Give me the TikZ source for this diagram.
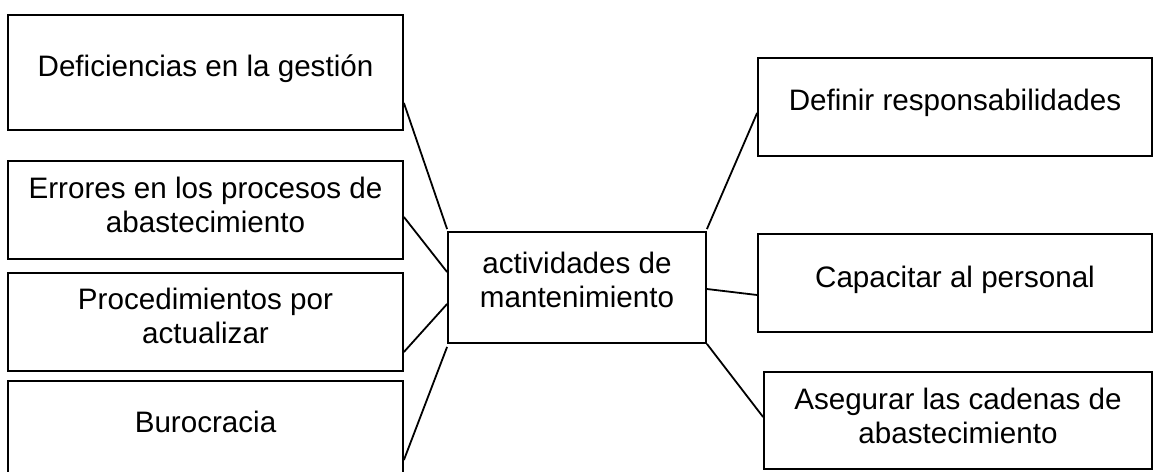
\documentclass[tikz,border=0pt]{standalone}
\usepackage{fontspec}
\setmainfont{Liberation Sans}
\begin{document}
\begin{tikzpicture}[x=1pt,y=-1pt,
  box/.style={draw,line width=1.8pt,inner sep=0pt,fill=none},
  txt/.style={inner sep=0pt,anchor=base,align=center,font=\fontsize{29.6}{33.5}\selectfont},
  link/.style={line width=1.8pt}]
\useasboundingbox (0,0) rectangle (1153,471);
% boxes
\node[box,minimum width=395pt,minimum height=115pt] (b1) at (205.5,72.5) {};
\node[box,minimum width=395pt,minimum height=98pt] (b2) at (205.5,210) {};
\node[box,minimum width=395pt,minimum height=98pt] (b3) at (205.5,322) {};
\node[box,minimum width=395pt,minimum height=99pt] (b4) at (205.5,430.5) {};
\node[box,minimum width=258pt,minimum height=111pt] (c) at (577,287.5) {};
\node[box,minimum width=394pt,minimum height=98pt] (r1) at (955,107) {};
\node[box,minimum width=394pt,minimum height=98pt] (r2) at (955,283) {};
\node[box,minimum width=388pt,minimum height=97pt] (r3) at (958,420.5) {};
% texts (base anchor = baseline of the last line)
\node[txt] (t1) at (205.5,76) {Deficiencias en la gestión};
\node[txt] (t2) at (205.5,232) {Errores en los procesos de\\abastecimiento};
\node[txt] (t3) at (205.5,343) {Procedimientos por\\actualizar};
\node[txt] (t4) at (205.5,432) {Burocracia};
\node[txt] (tc) at (577,307) {actividades de\\mantenimiento};
\node[txt] (tr1) at (955,110) {Definir responsabilidades};
\node[txt] (tr2) at (955,287) {Capacitar al personal};
\node[txt] (tr3) at (958,443) {Asegurar las cadenas de\\abastecimiento};
% connectors
\draw[link] ([yshift=-30.5pt]b1.east) -- ([yshift=2pt]c.north west);
\draw[link] ([yshift=-7pt]b2.east) -- ([yshift=15.5pt]c.west);
\draw[link] ([yshift=-30pt]b3.east) -- ([yshift=-16.5pt]c.west);
\draw[link] ([yshift=-29.5pt]b4.east) -- ([yshift=-3pt]c.south west);
\draw[link] ([yshift=2pt]c.north east) -- ([yshift=-6pt]r1.west);
\draw[link] ([yshift=-1.5pt]c.east) -- ([yshift=-12pt]r2.west);
\draw[link] (c.south east) -- ([yshift=3.5pt]r3.west);
\end{tikzpicture}
\end{document}
